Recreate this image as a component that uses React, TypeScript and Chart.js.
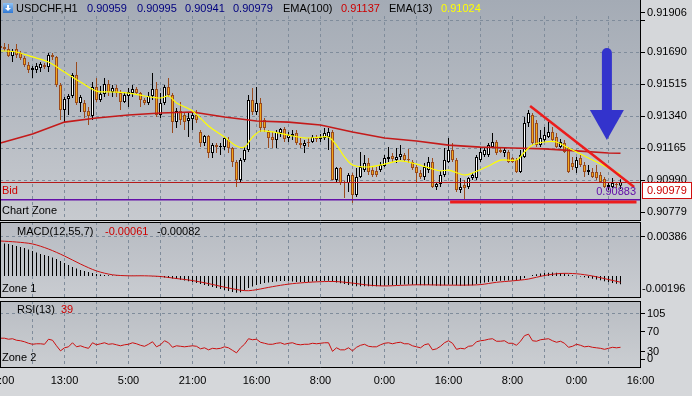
import React, { useEffect, useRef } from 'react';
import { Chart, registerables } from 'chart.js';

Chart.register(...registerables);

// ================= DATA (prices in points: price x 100000) =================
const OPEN = [
  91725, 91719, 91708, 91670, 91708, 91687, 91659, 91621, 91593, 91593,
  91604, 91621, 91610, 91676, 91665, 91511, 91374, 91435, 91451, 91566,
  91413, 91413, 91369, 91341, 91500, 91429, 91462, 91517, 91473, 91495,
  91467, 91418, 91451, 91467, 91489, 91467, 91429, 91413, 91451, 91489,
  91347, 91413, 91500, 91456, 91308, 91369, 91347, 91314, 91325, 91347,
  91254, 91193, 91232, 91139, 91182, 91171, 91171, 91210, 91166, 91089,
  90991, 91100, 91155, 91429, 91363, 91413, 91319, 91254, 91226, 91210,
  91248, 91270, 91221, 91232, 91248, 91193, 91177, 91199, 91199, 91226,
  91215, 91221, 91226, 91254, 90991, 91056, 90980, 90974, 91018, 90908,
  91007, 91045, 91084, 91045, 91040, 91045, 91067, 91106, 91122, 91100,
  91117, 91128, 91106, 91089, 91062, 91029, 91007, 91045, 91089, 90952,
  90969, 91018, 91089, 91155, 91100, 90936, 90963, 90952, 91002, 91002,
  91100, 91128, 91128, 91171, 91199, 91155, 91139, 91144, 91111, 91100,
  91034, 91117, 91303, 91347, 91303, 91182, 91210, 91226, 91254, 91226,
  91171, 91193, 91166, 91084, 91056, 91111, 91073, 91034, 91034, 91034,
  91018, 90996, 90952, 90952, 90969, 90959,
];
const HIGH = [
  91736, 91741, 91736, 91708, 91736, 91698, 91670, 91637, 91615, 91632,
  91637, 91632, 91687, 91687, 91670, 91522, 91445, 91462, 91577, 91637,
  91456, 91429, 91391, 91528, 91550, 91506, 91550, 91539, 91511, 91511,
  91484, 91473, 91495, 91511, 91500, 91473, 91440, 91473, 91577, 91528,
  91467, 91511, 91550, 91467, 91385, 91418, 91363, 91358, 91358, 91374,
  91265, 91237, 91237, 91193, 91193, 91193, 91226, 91226, 91171, 91100,
  91111, 91171, 91456, 91495, 91500, 91440, 91330, 91265, 91254, 91265,
  91276, 91281, 91254, 91265, 91265, 91221, 91210, 91221, 91237, 91237,
  91243, 91276, 91276, 91265, 91062, 91062, 90985, 91029, 91029, 91056,
  91144, 91128, 91111, 91062, 91062, 91089, 91128, 91171, 91139, 91166,
  91182, 91139, 91161, 91100, 91073, 91045, 91084, 91117, 91111, 90980,
  91040, 91166, 91221, 91193, 91111, 91002, 90991, 91007, 91029, 91128,
  91166, 91166, 91193, 91248, 91210, 91171, 91166, 91155, 91117, 91111,
  91155, 91336, 91374, 91358, 91319, 91265, 91281, 91308, 91281, 91248,
  91215, 91210, 91171, 91117, 91117, 91128, 91089, 91073, 91056, 91073,
  91034, 91007, 90980, 91002, 90980, 90995,
];
const LOW = [
  91703, 91698, 91665, 91637, 91659, 91648, 91610, 91577, 91550, 91577,
  91582, 91599, 91582, 91648, 91500, 91319, 91308, 91347, 91440, 91402,
  91363, 91330, 91292, 91319, 91418, 91418, 91445, 91451, 91445, 91445,
  91374, 91413, 91391, 91445, 91456, 91391, 91402, 91402, 91429, 91336,
  91330, 91402, 91445, 91248, 91276, 91292, 91265, 91226, 91265, 91303,
  91171, 91177, 91111, 91111, 91139, 91128, 91155, 91139, 91062, 90952,
  90974, 91089, 91144, 91347, 91347, 91254, 91254, 91166, 91166, 91166,
  91226, 91199, 91199, 91210, 91182, 91166, 91139, 91171, 91193, 91199,
  91199, 91210, 91155, 90991, 90980, 90963, 90892, 90925, 90865, 90897,
  91002, 91034, 91018, 91007, 91007, 91034, 91062, 91089, 91089, 91084,
  91100, 91089, 91084, 91045, 90980, 90996, 90991, 91029, 90947, 90936,
  90952, 91007, 91084, 91089, 90925, 90919, 90881, 90941, 90991, 90991,
  91089, 91117, 91117, 91166, 91128, 91139, 91117, 91084, 91084, 91029,
  91029, 91111, 91281, 91182, 91171, 91171, 91199, 91221, 91199, 91166,
  91166, 91139, 91029, 91045, 91029, 91062, 91007, 91018, 91002, 90991,
  90974, 90947, 90936, 90947, 90947, 90941,
];
const CLOSE = [
  91714, 91708, 91670, 91698, 91676, 91659, 91621, 91593, 91604, 91615,
  91626, 91610, 91676, 91665, 91511, 91374, 91435, 91451, 91566, 91413,
  91445, 91363, 91341, 91500, 91429, 91462, 91517, 91473, 91495, 91467,
  91418, 91456, 91473, 91489, 91467, 91429, 91413, 91451, 91489, 91347,
  91413, 91500, 91456, 91308, 91369, 91319, 91308, 91330, 91347, 91319,
  91193, 91232, 91139, 91182, 91171, 91177, 91221, 91166, 91089, 90991,
  91100, 91155, 91429, 91363, 91413, 91276, 91276, 91221, 91210, 91254,
  91270, 91215, 91237, 91243, 91193, 91182, 91193, 91193, 91226, 91215,
  91226, 91248, 91254, 90991, 91056, 90974, 90974, 91018, 90908, 91007,
  91062, 91084, 91034, 91018, 91018, 91073, 91111, 91117, 91106, 91117,
  91133, 91100, 91100, 91056, 91029, 91007, 91062, 91089, 90952, 90969,
  91018, 91100, 91155, 91100, 90936, 90952, 90947, 91002, 91018, 91117,
  91144, 91155, 91182, 91199, 91139, 91144, 91155, 91089, 91089, 91034,
  91128, 91303, 91358, 91193, 91182, 91221, 91237, 91254, 91210, 91171,
  91199, 91144, 91034, 91062, 91100, 91073, 91034, 91045, 91007, 91002,
  90980, 90952, 90963, 90974, 90963, 90979,
];
const PRICE_UNIT = 100000;

// EMA(13) read at sampled bars
const EMA13_BARS = [0, 4, 8, 12, 16, 20, 24, 28, 32, 36, 40, 42, 44, 48, 52, 56, 59, 61, 63, 65, 68, 72, 76, 80, 82, 84, 86, 88, 92, 96, 100, 104, 108, 110, 112, 116, 118, 122, 125, 129, 131, 133, 136, 139, 142, 146, 149, 152, 155];
const EMA13_PTS = [91699, 91692, 91665, 91637, 91582, 91528, 91478, 91473, 91467, 91451, 91440, 91451, 91413, 91369, 91287, 91226, 91177, 91171, 91226, 91259, 91254, 91237, 91221, 91226, 91226, 91182, 91117, 91073, 91062, 91078, 91095, 91078, 91051, 91040, 91045, 91018, 91029, 91067, 91100, 91100, 91144, 91182, 91199, 91199, 91166, 91122, 91089, 91056, 91024];
// EMA(100) read at sampled bars
const EMA100_BARS = [0, 8, 16, 24, 32, 40, 48, 56, 64, 72, 80, 88, 96, 104, 112, 120, 128, 136, 144, 152, 155];
const EMA100_PTS = [91193, 91243, 91308, 91330, 91347, 91358, 91363, 91336, 91314, 91308, 91292, 91254, 91221, 91204, 91182, 91171, 91166, 91161, 91150, 91139, 91137];

// MACD(12,55,7) histogram, in units of 0.00001
const MACD_HIST = [
  325, 320, 316, 306, 296, 286, 276, 262, 247, 232,
  217, 207, 197, 183, 168, 148, 128, 108, 89, 74,
  59, 49, 39, 30, 20, 15, 10, 7, 5, 4,
  3, 3, 2, 2, 3, 2, 1, 0, -2, -5,
  -10, -15, -20, -25, -30, -37, -44, -52, -59, -69,
  -79, -89, -99, -108, -118, -128, -138, -148, -158, -165,
  -160, -140, -118, -104, -89, -79, -69, -64, -59, -54,
  -50, -50, -52, -55, -58, -60, -60, -58, -55, -52,
  -50, -48, -46, -55, -65, -72, -80, -88, -95, -100,
  -102, -102, -102, -100, -100, -98, -95, -92, -90, -88,
  -86, -85, -85, -86, -88, -90, -90, -88, -92, -95,
  -95, -90, -85, -86, -92, -95, -97, -94, -90, -80,
  -72, -65, -58, -52, -50, -48, -45, -44, -44, -45,
  -40, -20, 0, 10, 18, 25, 30, 33, 35, 33,
  30, 25, 15, 8, 2, -5, -12, -20, -28, -35,
  -42, -52, -60, -68, -76, -82,
];
const MACD_UNIT = 100000;
// MACD signal line, sampled bars, units of 0.00001
const MACD_SIG_BARS = [0, 4, 8, 12, 16, 20, 24, 28, 32, 36, 40, 44, 48, 52, 56, 60, 62, 64, 68, 72, 76, 80, 84, 88, 92, 96, 100, 104, 108, 112, 116, 120, 124, 128, 132, 136, 140, 144, 148, 152, 155];
const MACD_SIG = [345, 335, 316, 266, 197, 118, 50, 12, 2, 2, -5, -25, -45, -75, -110, -140, -145, -135, -105, -80, -65, -56, -55, -70, -90, -98, -92, -87, -88, -90, -90, -85, -62, -48, -30, 5, 25, 22, 0, -35, -61];

// RSI(13)
const RSI = [
  57, 57, 55, 56, 53, 52, 50, 47, 45, 46,
  46, 45, 55, 53, 42, 32, 38, 40, 48, 40,
  42, 39, 37, 48, 44, 46, 48, 45, 46, 44,
  42, 44, 45, 48, 46, 43, 41, 45, 50, 40,
  44, 52, 48, 39, 42, 41, 40, 41, 42, 41,
  36, 38, 34, 37, 36, 37, 40, 38, 33, 28,
  38, 45, 56, 54, 55, 49, 47, 45, 45, 47,
  48, 45, 47, 48, 45, 44, 45, 45, 47, 46,
  47, 48, 48, 31, 38, 34, 34, 38, 32, 39,
  43, 45, 41, 40, 40, 44, 47, 48, 46, 48,
  49, 46, 46, 42, 40, 38, 44, 46, 34, 36,
  41, 48, 52, 47, 35, 37, 36, 41, 42, 50,
  52, 53, 55, 56, 51, 51, 52, 47, 47, 43,
  51, 62, 65, 52, 51, 54, 55, 56, 52, 49,
  51, 47, 39, 41, 45, 43, 40, 41, 39, 38,
  37, 35, 37, 39, 38, 39,
];

// Axis / label values
const TIME_LABELS = ['21:00', '13:00', '5:00', '21:00', '16:00', '8:00', '0:00', '16:00', '8:00', '0:00', '16:00'];
const TIME_LABEL_BARS = [0, 16, 32, 48, 64, 80, 96, 112, 128, 144, 160];
const GRID_BARS = [8, 16, 24, 32, 40, 48, 56, 64, 72, 80, 88, 96, 104, 112, 120, 128, 136, 144, 152];
const PRICE_GRID = [0.91865, 0.9169, 0.91515, 0.9134, 0.91165, 0.9099];
const PRICE_LABELS = [0.91906, 0.9169, 0.91515, 0.9134, 0.91165, 0.9099, 0.90779];
const MACD_LABELS = [0.00386, -0.00196];
const MACD_GRID = [0.00386];
const RSI_LABELS = [105, 70, 30, 0];
const RSI_GRID = [105];

const SYMBOL = 'USDCHF,H1';
const LAST_OHLC = [0.90959, 0.90995, 0.90941, 0.90979];
const EMA100_LAST = 0.91137;
const EMA13_LAST = 0.91024;
const BID = 0.90979;
const ZONE_LEVEL = 0.90883;
const MACD_LINE_LAST = -0.00061;
const MACD_HIST_LAST = -0.00082;
const RSI_LAST = 39;

// Drawn objects (bar index, price)
const TREND_DOWN = [[132.4, 0.91396], [158.4, 0.90952]];
const TREND_FLAT = [[112.4, 0.9087], [159.0, 0.9087]];
const ARROW = { bar: 151.6, top: 0.91714, headBase: 0.91374, tip: 0.9121 };

// Scale ranges
const X_MIN = -0.125;
const X_MAX = 159.875;
const PRICE_MIN = 0.90766;
const PRICE_MAX = 0.91977;
const MACD_MIN = -0.002169;
const MACD_MAX = 0.005324;
const RSI_MIN = -1.98;
const RSI_MAX = 130.7;

// ================= STYLE =================
const FONT_FAMILY = '"Liberation Sans", Arial, sans-serif';
const FONT = `11px ${FONT_FAMILY}`;
const OUTER_BG = '#d5d7da';
const GRID_COLOR = '#7f8c9b';
const BULL_BODY = '#ffffff';
const BULL_LINE = '#000000';
const BEAR_BODY = '#f2a81c';
const BEAR_LINE = '#9a4a1c';
const EMA13_COLOR = '#ffff00';
const EMA100_COLOR = '#c41a1a';
const BID_COLOR = '#b41a1a';
const ZONE_COLOR = '#6410a8';
const TREND_COLOR = '#ec1c1c';
const ARROW_COLOR = '#3333cc';
const VALUE_BLUE = '#00007f';
const RED_TEXT = '#cc0000';
const RIGHT_PAD = 52;

function txt(ctx: any, s: string, x: number, y: number, color: string, align: string = 'left') {
  ctx.font = FONT;
  ctx.fillStyle = color;
  ctx.textAlign = align;
  ctx.textBaseline = 'middle';
  ctx.fillText(s, x, y);
}

function panelPlugin(opts: any) {
  return {
    id: 'panel-' + opts.id,
    beforeDraw(chart: any) {
      const { ctx, chartArea: a, scales } = chart;
      const xs = scales.x;
      const ys = scales.y;
      ctx.save();
      const g = ctx.createLinearGradient(0, a.top, 0, a.bottom);
      g.addColorStop(0, opts.bgTop);
      g.addColorStop(1, opts.bgBottom);
      ctx.fillStyle = g;
      ctx.fillRect(a.left, a.top, a.right - a.left, a.bottom - a.top);
      ctx.strokeStyle = GRID_COLOR;
      ctx.lineWidth = 1;
      ctx.setLineDash([3, 3]);
      ctx.beginPath();
      for (const b of GRID_BARS) {
        const px = Math.floor(xs.getPixelForValue(b)) + 0.5;
        ctx.moveTo(px, a.top + (opts.gridTop || 0));
        ctx.lineTo(px, a.bottom);
      }
      for (const v of opts.hGrid) {
        const py = Math.floor(ys.getPixelForValue(v)) + 0.5;
        ctx.moveTo(a.left, py);
        ctx.lineTo(a.right, py);
      }
      ctx.stroke();
      ctx.setLineDash([]);
      if (opts.gridTop) {
        ctx.fillStyle = g;
        ctx.fillRect(a.left, a.top, a.right - a.left, opts.gridTop);
      }
      ctx.restore();
    },
    afterDatasetsDraw(chart: any) {
      const { ctx, chartArea: a, scales } = chart;
      const ys = scales.y;
      ctx.save();
      if (opts.overlay) opts.overlay(chart);
      // borders
      ctx.strokeStyle = '#000000';
      ctx.lineWidth = 1;
      ctx.beginPath();
      ctx.moveTo(a.left + 0.5, a.top);
      ctx.lineTo(a.left + 0.5, a.bottom);
      ctx.moveTo(a.right + 0.5, a.top);
      ctx.lineTo(a.right + 0.5, a.bottom);
      ctx.moveTo(a.left, a.bottom - 0.5);
      ctx.lineTo(a.right + 1, a.bottom - 0.5);
      if (opts.topBorder) {
        ctx.moveTo(a.left, a.top + 0.5);
        ctx.lineTo(a.right + 1, a.top + 0.5);
      }
      ctx.stroke();
      // axis labels
      ctx.fillStyle = '#000000';
      for (const v of opts.tickOnly || []) {
        const py = Math.floor(ys.getPixelForValue(v));
        ctx.fillStyle = '#000000';
        ctx.fillRect(a.right + 1, py, 4, 1);
      }
      for (const lab of opts.labels) {
        let py = ys.getPixelForValue(lab.v);
        py = Math.max(a.top + 7, Math.min(a.bottom - 9, py));
        if (lab.v < 0) {
          txt(ctx, lab.text, a.right + 2, py, '#000000');
        } else {
          ctx.fillStyle = '#000000';
          ctx.fillRect(a.right + 1, Math.floor(py), 4, 1);
          txt(ctx, lab.text, a.right + 7, py, '#000000');
        }
      }
      if (opts.after) opts.after(chart);
      ctx.restore();
    },
  };
}

function baseOptions(yMin: number, yMax: number, padBottom: number) {
  return {
    responsive: false,
    animation: false,
    events: [],
    layout: { padding: { left: 0, right: RIGHT_PAD, top: 0, bottom: padBottom } },
    plugins: { legend: { display: false }, tooltip: { enabled: false } },
    scales: {
      x: { type: 'linear', min: X_MIN, max: X_MAX, offset: false, display: false },
      y: { type: 'linear', min: yMin, max: yMax, display: false },
    },
  };
}

function drawMainOverlay(chart: any) {
  const { ctx, chartArea: a, scales } = chart;
  const xs = scales.x;
  const ys = scales.y;
  ctx.save();
  ctx.beginPath();
  ctx.rect(a.left, a.top, a.right - a.left, a.bottom - a.top);
  ctx.clip();
  // bid line
  const bidY = Math.floor(ys.getPixelForValue(BID)) + 0.5;
  ctx.strokeStyle = BID_COLOR;
  ctx.lineWidth = 1;
  ctx.beginPath();
  ctx.moveTo(a.left, bidY);
  ctx.lineTo(a.right, bidY);
  ctx.stroke();
  // zone line
  const zy = ys.getPixelForValue(ZONE_LEVEL);
  ctx.strokeStyle = ZONE_COLOR;
  ctx.lineWidth = 1.5;
  ctx.beginPath();
  ctx.moveTo(a.left, zy);
  ctx.lineTo(a.right, zy);
  ctx.stroke();
  // trend lines
  ctx.strokeStyle = TREND_COLOR;
  ctx.lineWidth = 2.5;
  ctx.beginPath();
  ctx.moveTo(xs.getPixelForValue(TREND_DOWN[0][0]), ys.getPixelForValue(TREND_DOWN[0][1]));
  ctx.lineTo(xs.getPixelForValue(TREND_DOWN[1][0]), ys.getPixelForValue(TREND_DOWN[1][1]));
  ctx.stroke();
  ctx.lineWidth = 3;
  ctx.beginPath();
  ctx.moveTo(xs.getPixelForValue(TREND_FLAT[0][0]), ys.getPixelForValue(TREND_FLAT[0][1]));
  ctx.lineTo(xs.getPixelForValue(TREND_FLAT[1][0]), ys.getPixelForValue(TREND_FLAT[1][1]));
  ctx.stroke();
  // arrow
  const ax = xs.getPixelForValue(ARROW.bar);
  const aTop = ys.getPixelForValue(ARROW.top);
  const aBase = ys.getPixelForValue(ARROW.headBase);
  const aTip = ys.getPixelForValue(ARROW.tip);
  ctx.strokeStyle = ARROW_COLOR;
  ctx.lineWidth = 10;
  ctx.lineCap = 'round';
  ctx.beginPath();
  ctx.moveTo(ax, aTop + 5);
  ctx.lineTo(ax, aBase + 2);
  ctx.stroke();
  ctx.lineCap = 'butt';
  ctx.fillStyle = ARROW_COLOR;
  ctx.beginPath();
  ctx.moveTo(ax - 17, aBase);
  ctx.lineTo(ax + 17, aBase);
  ctx.lineTo(ax, aTip);
  ctx.closePath();
  ctx.fill();
  // texts
  txt(ctx, ZONE_LEVEL.toFixed(5), a.right - 4, zy - 8, ZONE_COLOR, 'right');
  txt(ctx, 'Bid', 2, bidY + 8, RED_TEXT);
  txt(ctx, 'Chart Zone', 2, zy + 11, '#000000');
  ctx.restore();
}

function drawMainAfter(chart: any) {
  const { ctx, chartArea: a, scales } = chart;
  const ys = scales.y;
  // title icon
  const ig = ctx.createLinearGradient(0, 3, 0, 13);
  ig.addColorStop(0, '#8fc3f5');
  ig.addColorStop(1, '#2f78d4');
  ctx.fillStyle = ig;
  ctx.fillRect(3, 3, 10, 10);
  ctx.fillStyle = '#ffffff';
  ctx.fillRect(7, 5, 2, 4);
  ctx.beginPath();
  ctx.moveTo(5, 8);
  ctx.lineTo(11, 8);
  ctx.lineTo(8, 11);
  ctx.closePath();
  ctx.fill();
  // title texts
  const ty = 9;
  txt(ctx, SYMBOL, 16, ty, '#000000');
  const valX = [87, 137, 185, 233];
  LAST_OHLC.forEach((v, k) => txt(ctx, v.toFixed(5), valX[k], ty, VALUE_BLUE));
  txt(ctx, 'EMA(100)', 283, ty, '#000000');
  txt(ctx, EMA100_LAST.toFixed(5), 341, ty, RED_TEXT);
  txt(ctx, 'EMA(13)', 389, ty, '#000000');
  txt(ctx, EMA13_LAST.toFixed(5), 441, ty, EMA13_COLOR);
  // bid price box
  const by = Math.floor(ys.getPixelForValue(BID));
  ctx.fillStyle = '#ffffff';
  ctx.fillRect(a.right + 2, by, 50, 17);
  ctx.strokeStyle = '#d01010';
  ctx.lineWidth = 1;
  ctx.strokeRect(a.right + 2.5, by + 0.5, 49, 16);
  txt(ctx, BID.toFixed(5), a.right + 7, by + 9, RED_TEXT);
}

function drawMacdAfter(chart: any) {
  const { ctx } = chart;
  txt(ctx, 'MACD(12,55,7)', 17, 10, '#000000');
  txt(ctx, MACD_LINE_LAST.toFixed(5), 105, 10, RED_TEXT);
  txt(ctx, MACD_HIST_LAST.toFixed(5), 157, 10, '#000000');
  txt(ctx, 'Zone 1', 2, 67, '#000000');
}

function drawRsiAfter(chart: any) {
  const { ctx, chartArea: a, scales } = chart;
  const xs = scales.x;
  txt(ctx, 'RSI(13)', 17, 9, '#000000');
  txt(ctx, String(RSI_LAST), 61, 9, RED_TEXT);
  txt(ctx, 'Zone 2', 2, 57, '#000000');
  TIME_LABELS.forEach((s, k) => {
    const px = xs.getPixelForValue(TIME_LABEL_BARS[k]);
    txt(ctx, s, px, a.bottom + 13, '#000000', 'center');
  });
}

function mainConfig(): any {
  const idx = OPEN.map((_, i) => i);
  const bull = idx.map((i) => CLOSE[i] >= OPEN[i]);
  return {
    type: 'bar',
    data: {
      datasets: [
        {
          type: 'bar',
          data: idx.map((i) => ({ x: i, y: [LOW[i] / PRICE_UNIT, HIGH[i] / PRICE_UNIT] })),
          backgroundColor: idx.map((i) => (bull[i] ? BULL_LINE : BEAR_LINE)),
          borderWidth: 0,
          barThickness: 1,
          grouped: false,
          inflateAmount: 0,
          order: 4,
        },
        {
          type: 'bar',
          data: idx.map((i) => ({ x: i, y: [OPEN[i] / PRICE_UNIT, CLOSE[i] / PRICE_UNIT] })),
          backgroundColor: idx.map((i) => (bull[i] ? BULL_BODY : BEAR_BODY)),
          borderColor: idx.map((i) => (bull[i] ? BULL_LINE : BEAR_LINE)),
          borderWidth: 1,
          borderSkipped: false,
          barThickness: 3,
          minBarLength: 1,
          grouped: false,
          inflateAmount: 0,
          order: 3,
        },
        {
          type: 'line',
          data: EMA100_BARS.map((b, k) => ({ x: b, y: EMA100_PTS[k] / PRICE_UNIT })),
          borderColor: EMA100_COLOR,
          borderWidth: 1.6,
          pointRadius: 0,
          tension: 0,
          fill: false,
          order: 2,
        },
        {
          type: 'line',
          data: EMA13_BARS.map((b, k) => ({ x: b, y: EMA13_PTS[k] / PRICE_UNIT })),
          borderColor: EMA13_COLOR,
          borderWidth: 1.2,
          pointRadius: 0,
          tension: 0.3,
          fill: false,
          order: 1,
        },
      ],
    },
    options: baseOptions(PRICE_MIN, PRICE_MAX, 0),
    plugins: [
      panelPlugin({
        id: 'main',
        bgTop: '#a4abb5',
        bgBottom: '#c7cacf',
        gridTop: 16,
        hGrid: PRICE_GRID,
        tickOnly: [PRICE_GRID[0]],
        labels: PRICE_LABELS.map((v) => ({ v, text: v.toFixed(5) })),
        overlay: drawMainOverlay,
        after: drawMainAfter,
      }),
    ],
  };
}

function macdConfig(): any {
  const idx = MACD_HIST.map((_, i) => i);
  return {
    type: 'bar',
    data: {
      datasets: [
        {
          type: 'bar',
          data: idx.map((i) => ({ x: i, y: MACD_HIST[i] / MACD_UNIT })),
          backgroundColor: '#000000',
          borderWidth: 0,
          barThickness: 1,
          grouped: false,
          inflateAmount: 0,
          order: 2,
        },
        {
          type: 'line',
          data: MACD_SIG_BARS.map((b, k) => ({ x: b, y: MACD_SIG[k] / MACD_UNIT })),
          borderColor: '#cc1010',
          borderWidth: 1,
          pointRadius: 0,
          tension: 0.3,
          fill: false,
          order: 1,
        },
      ],
    },
    options: baseOptions(MACD_MIN, MACD_MAX, 3),
    plugins: [
      panelPlugin({
        id: 'macd',
        bgTop: '#b7bbc2',
        bgBottom: '#c9ccd1',
        topBorder: true,
        hGrid: MACD_GRID,
        labels: MACD_LABELS.map((v) => ({ v, text: v.toFixed(5) })),
        after: drawMacdAfter,
      }),
    ],
  };
}

function rsiConfig(): any {
  const idx = RSI.map((_, i) => i);
  return {
    type: 'line',
    data: {
      datasets: [
        {
          type: 'line',
          data: idx.map((i) => ({ x: i, y: RSI[i] })),
          borderColor: '#cc1010',
          borderWidth: 1,
          pointRadius: 0,
          tension: 0,
          fill: false,
        },
      ],
    },
    options: baseOptions(RSI_MIN, RSI_MAX, 28),
    plugins: [
      panelPlugin({
        id: 'rsi',
        bgTop: '#b9bdc3',
        bgBottom: '#cbced2',
        topBorder: true,
        hGrid: RSI_GRID,
        labels: RSI_LABELS.map((v) => ({ v, text: String(v) })),
        after: drawRsiAfter,
      }),
    ],
  };
}

export default function App() {
  const mainRef = useRef<HTMLCanvasElement>(null);
  const macdRef = useRef<HTMLCanvasElement>(null);
  const rsiRef = useRef<HTMLCanvasElement>(null);

  useEffect(() => {
    document.body.style.margin = '0';
    const charts: Chart[] = [];
    if (mainRef.current) charts.push(new Chart(mainRef.current, mainConfig()));
    if (macdRef.current) charts.push(new Chart(macdRef.current, macdConfig()));
    if (rsiRef.current) charts.push(new Chart(rsiRef.current, rsiConfig()));
    return () => charts.forEach((c) => c.destroy());
  }, []);

  return (
    <div style={{ position: 'relative', width: 692, height: 396, background: OUTER_BG, overflow: 'hidden' }}>
      <canvas ref={mainRef} width={692} height={221} style={{ position: 'absolute', left: 0, top: 0, width: 692, height: 221 }} />
      <canvas ref={macdRef} width={692} height={79} style={{ position: 'absolute', left: 0, top: 222, width: 692, height: 79 }} />
      <canvas ref={rsiRef} width={692} height={95} style={{ position: 'absolute', left: 0, top: 301, width: 692, height: 95 }} />
    </div>
  );
}
